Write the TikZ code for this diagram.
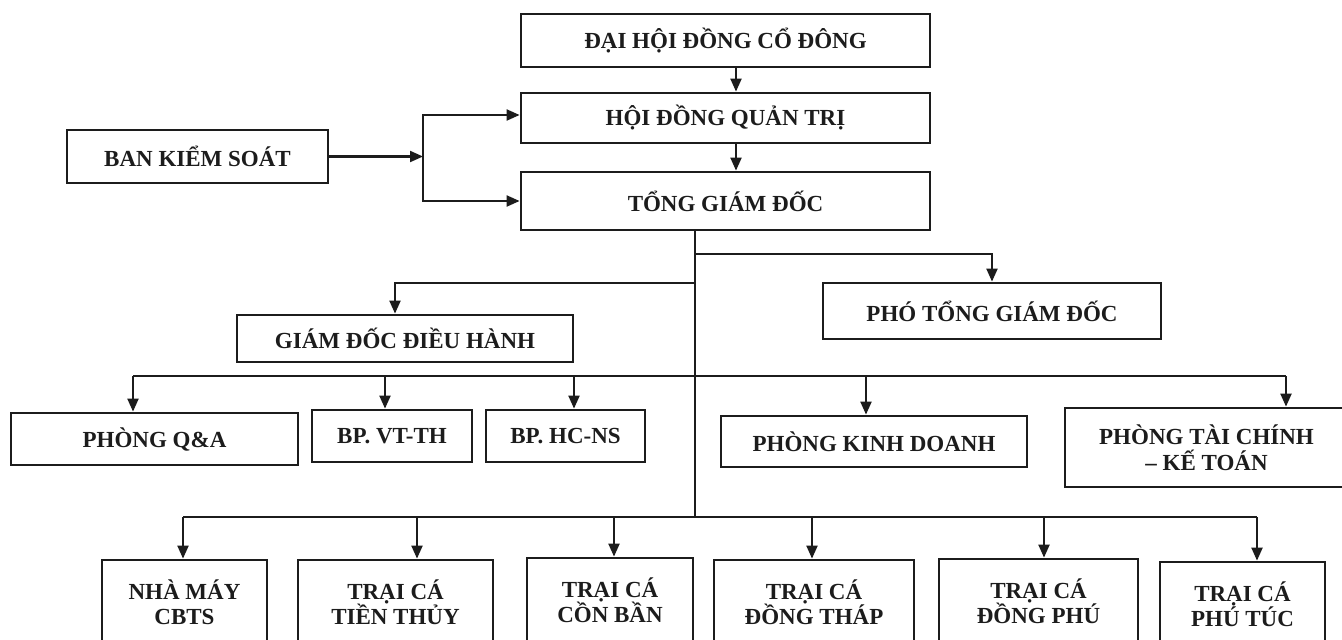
\documentclass[tikz,border=0pt]{standalone}
\usepackage{fontspec}
\setmainfont{Liberation Serif}
\usepackage{tikz}
\usetikzlibrary{arrows.meta}
\tikzset{>={Triangle[width=11pt,length=13pt]}}
\definecolor{ink}{HTML}{1C1C1C}
\tikzset{
  box/.style={draw=ink, line width=2.8pt, fill=white, align=center,
    inner sep=0pt, text=ink, font=\fontsize{23}{25.5}\selectfont\bfseries},
  wire/.style={draw=ink, line width=2.1pt},
  link/.style={wire, ->}
}

\begin{document}
\begin{tikzpicture}[x=1pt, y=-1pt]

  \clip (0,0) rectangle (1342,640); %% page size
  \fill[white] (0,0) rectangle (1342,640);

  \newcommand\Trunk{695}
  \newcommand\BusA{376}
  \newcommand\BusB{517}

  % top of the chart
  \node[box, minimum width=409pt, minimum height=53pt] (dhd)  at (725.5,40.5) {ĐẠI HỘI ĐỒNG CỔ ĐÔNG};
  \node[box, minimum width=409pt, minimum height=50pt] (hdqt) at (725.5,118) {HỘI ĐỒNG QUẢN TRỊ};
  \node[box, minimum width=409pt, minimum height=58pt] (tgd)  at (725.5,201) {TỔNG GIÁM ĐỐC};
  \node[box, minimum width=261pt, minimum height=53pt] (bks)  at (197.5,156.5) {BAN KIỂM SOÁT};

  \node[box, minimum width=338pt, minimum height=56pt] (ptgd) at (992,311) {PHÓ TỔNG GIÁM ĐỐC};
  \node[box, minimum width=336pt, minimum height=47pt] (gddh) at (405,338.5) {GIÁM ĐỐC ĐIỀU HÀNH};

  % departments
  \node[box, minimum width=287pt, minimum height=52pt] (pqa)   at (154.5,439) {PHÒNG Q\&A};
  \node[box, minimum width=160pt, minimum height=52pt] (vtth)  at (392,436) {BP. VT-TH};
  \node[box, minimum width=159pt, minimum height=52pt] (hcns)  at (565.5,436) {BP. HC-NS};
  \node[box, minimum width=306pt, minimum height=51pt] (pkd)   at (874,441.5) {PHÒNG KINH DOANH};
  \node[box, minimum width=283pt, minimum height=79pt] (ptckt) at (1206.5,447.5) {PHÒNG TÀI CHÍNH\\– KẾ TOÁN};

  % farms and factory
  \node[box, minimum width=165pt, minimum height=84pt] (cbts) at (184.5,602) {NHÀ MÁY\\CBTS};
  \node[box, minimum width=195pt, minimum height=84pt] (tt)   at (395.5,602) {TRẠI CÁ\\TIỀN THỦY};
  \node[box, minimum width=166pt, minimum height=84pt] (cb)   at (610,600) {TRẠI CÁ\\CỒN BẦN};
  \node[box, minimum width=200pt, minimum height=84pt] (dt)   at (814,602) {TRẠI CÁ\\ĐỒNG THÁP};
  \node[box, minimum width=199pt, minimum height=84pt] (dp)   at (1038.5,601) {TRẠI CÁ\\ĐỒNG PHÚ};
  \node[box, minimum width=165pt, minimum height=84pt] (pt)   at (1242.5,604) {TRẠI CÁ\\PHÚ TÚC};

  % board
  \draw[link] ([xshift=10.5pt]dhd.south) -- ([xshift=10.5pt]hdqt.north);
  \draw[link] ([xshift=10.5pt]hdqt.south) -- ([xshift=10.5pt]tgd.north);

  \coordinate (brk) at (423,156.5);
  \draw[link] (bks.east) -- (brk);
  \draw[link] (brk) |- ([yshift=3pt]hdqt.west);
  \draw[link] (brk) |- (tgd.west);

  % trunk and branches
  \draw[wire] ([xshift=-30.5pt]tgd.south) -- (\Trunk,\BusB);
  \draw[link] (\Trunk,254) -| (ptgd.north);
  \draw[link] (\Trunk,283) -| ([xshift=-10pt]gddh.north);

  \draw[wire] (133,\BusA) -- (1286,\BusA);
  \foreach \xx/\nn in {133/pqa, 385/vtth, 574/hcns, 866/pkd, 1286/ptckt}
    \draw[link] (\xx,\BusA) -- (\xx,\BusA |- \nn.north);

  \draw[wire] (183,\BusB) -- (1257,\BusB);
  \foreach \xx/\nn in {183/cbts, 417/tt, 614/cb, 812/dt, 1044/dp, 1257/pt}
    \draw[link] (\xx,\BusB) -- (\xx,\BusB |- \nn.north);

\end{tikzpicture}
\end{document}
